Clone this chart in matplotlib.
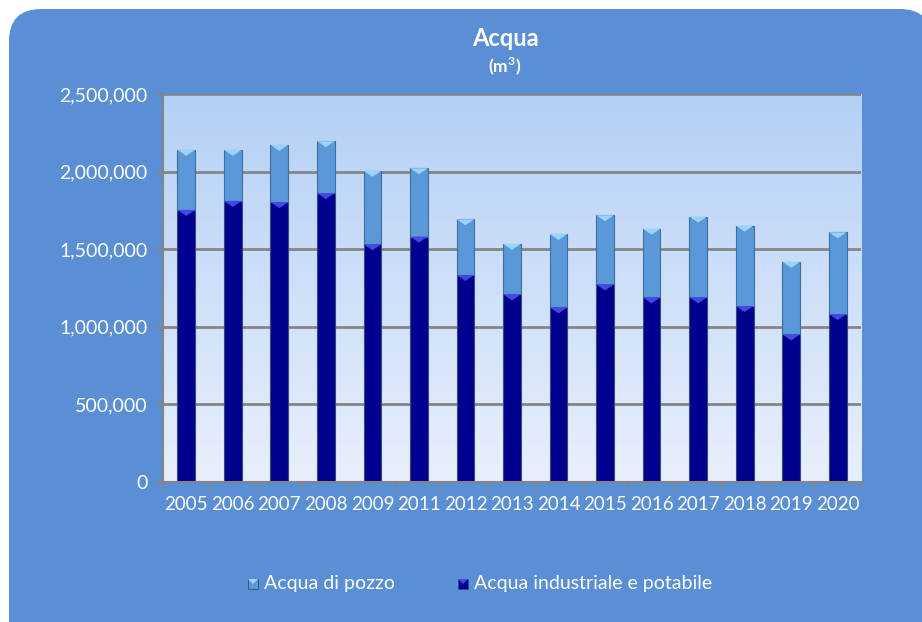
import matplotlib
matplotlib.use("Agg")
import matplotlib.pyplot as plt
import numpy as np
from matplotlib.patches import FancyBboxPatch, Polygon, Rectangle
from matplotlib.ticker import FuncFormatter

years = ["2005", "2006", "2007", "2008", "2009", "2011", "2012", "2013",
         "2014", "2015", "2016", "2017", "2018", "2019", "2020"]
industriale = [1753000, 1811000, 1803000, 1861000, 1532000, 1581000, 1334000,
               1209000, 1125000, 1273000, 1190000, 1190000, 1134000, 951000,
               1082000]
pozzo = [387000, 329000, 369000, 335000, 473000, 441000, 359000, 325000,
         473000, 446000, 442000, 520000, 518000, 468000, 527000]

FONT = ["Lato", "DejaVu Sans"]
plt.rcParams["font.family"] = FONT
plt.rcParams["mathtext.fontset"] = "custom"
plt.rcParams["mathtext.rm"] = "Lato"
plt.rcParams["mathtext.bf"] = "Lato:bold"

fig = plt.figure(figsize=(9.22, 6.22), dpi=100)
W, H = 922, 622

# rounded blue panel behind the chart
panel = FancyBboxPatch((9 / W, -0.2), (932 - 9) / W, 1.2 - 9 / H,
                       boxstyle="round,pad=0,rounding_size=0.035",
                       transform=fig.transFigure, facecolor="#5A8FD5",
                       edgecolor="none", zorder=-5, mutation_aspect=W / H)
fig.patches.append(panel)

ax = fig.add_axes([163 / W, 1 - 482 / H, (861 - 163) / W, (482 - 94) / H])
ax.set_facecolor("none")
ax.set_zorder(1)

x = np.arange(len(years))
ax.set_xlim(-0.5, len(years) - 0.5)
ax.set_ylim(0, 2500000)

# vertical gradient in the plot area
grad = np.linspace(0, 1, 256).reshape(-1, 1)
top_c = np.array([0xB4, 0xD0, 0xF6]) / 255
bot_c = np.array([0xE8, 0xEF, 0xFB]) / 255
img = bot_c + (top_c - bot_c) * grad
ax.imshow(img[:, None, :].repeat(2, axis=1), extent=[0, 1, 0, 1],
          transform=ax.transAxes, aspect="auto", origin="lower", zorder=0)

for yv in [500000, 1000000, 1500000, 2000000, 2500000]:
    ax.axhline(yv, color="#858585", lw=2, zorder=1)

bw = 0.38
ax.bar(x, industriale, width=bw, color="#00008F", edgecolor="#3A4A7A",
       linewidth=0.8, zorder=3, label="Acqua industriale e potabile")
ax.bar(x, pozzo, width=bw, bottom=industriale, color="#5A98D8",
       edgecolor="#3E6D9E", linewidth=0.8, zorder=3, label="Acqua di pozzo")

# bevel caps on top of each segment
px_per_unit = (482 - 94) / 2500000
cap_h = 6 / px_per_unit
tops_low = np.array(industriale)
tops_high = tops_low + np.array(pozzo)
for xi, tl, th in zip(x, tops_low, tops_high):
    ax.add_patch(Polygon([[xi - bw / 2, tl], [xi + bw / 2, tl],
                          [xi, tl - cap_h]], closed=True,
                         facecolor="#4646E6", edgecolor="none", zorder=4))
    ax.add_patch(Polygon([[xi - bw / 2, th], [xi + bw / 2, th],
                          [xi, th - cap_h]], closed=True,
                         facecolor="#9AD3FA", edgecolor="none", zorder=4))

ax.set_xticks(x)
ax.set_xticklabels(years)
ax.set_xticks(np.arange(-0.5, len(years)), minor=True)
ax.tick_params(axis="x", which="major", length=0, pad=10,
               labelsize=13.5, labelcolor="white")
ax.tick_params(axis="x", which="minor", length=5, width=1.5,
               color="#858585")
ax.tick_params(axis="y", length=5, width=1.5, color="#858585",
               labelsize=14, labelcolor="white", pad=6)
ax.yaxis.set_major_formatter(FuncFormatter(lambda v, p: f"{int(v):,}"))
ax.set_yticks([0, 500000, 1000000, 1500000, 2000000, 2500000])

for s in ["top", "right"]:
    ax.spines[s].set_visible(False)
for s in ["left", "bottom"]:
    ax.spines[s].set_color("#858585")
    ax.spines[s].set_linewidth(1.5)
    ax.spines[s].set_zorder(5)

fig.text(505 / W, 1 - 38 / H, "Acqua", ha="center", va="center",
         color="white", fontsize=17, fontweight="bold")
fig.text(505 / W, 1 - 66 / H, r"(m$^{\mathbf{3}}$)", ha="center",
         va="center", color="white", fontsize=12.5, fontweight="bold")

# legend
def legend_item(xpix, color, cap, label):
    fig.patches.append(Rectangle((xpix / W, 1 - 589 / H), 10 / W, 10 / H,
                                 transform=fig.transFigure, facecolor=color,
                                 edgecolor="#3A4A7A", lw=0.6, zorder=3))
    fig.patches.append(Polygon([[xpix / W, 1 - 579 / H],
                                [(xpix + 10) / W, 1 - 579 / H],
                                [(xpix + 5) / W, 1 - 584 / H]],
                               transform=fig.transFigure, facecolor=cap,
                               edgecolor="none", zorder=4))
    fig.text((xpix + 16) / W, 1 - 583 / H, label, ha="left", va="center",
             color="white", fontsize=14)

legend_item(248, "#5A98D8", "#9AD3FA", "Acqua di pozzo")
legend_item(458, "#00008F", "#4646E6", "Acqua industriale e potabile")

fig.savefig("out.png", dpi=100, facecolor="white")
